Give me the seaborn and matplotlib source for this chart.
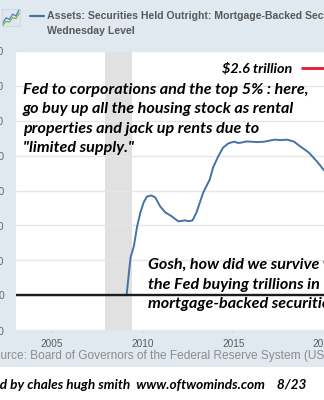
import matplotlib
matplotlib.use("Agg")
import matplotlib.pyplot as plt
import seaborn as sns
import pandas as pd
from matplotlib.patches import Rectangle
from matplotlib import font_manager as fm

# ---- data, millions of dollars ----
years = [2002.97, 2005.0, 2008.0, 2009.05, 2009.13, 2009.26, 2009.35, 2009.53, 2009.71,
         2009.89, 2010.07, 2010.25, 2010.49, 2010.71, 2010.98, 2011.26, 2011.62,
         2011.98, 2012.2, 2012.35, 2012.55, 2012.76, 2012.98, 2013.35, 2013.71,
         2013.89, 2014.17, 2014.44, 2014.71, 2014.9, 2015.08, 2015.25, 2015.44,
         2015.7, 2015.98, 2016.3, 2016.71, 2017.0, 2017.26, 2017.6, 2017.98,
         2018.35, 2018.71, 2019.17, 2019.62, 2019.84, 2020.0]
mbs_millions = [0, 0, 0, 0, 0, 262000, 434000, 560000, 789000,
                949000, 1063000, 1131000, 1143000, 1120000, 1017000, 949000, 903000,
                846000, 852000, 857000, 848000, 857000, 949000, 1177000, 1326000,
                1463000, 1589000, 1691000, 1737000, 1752000, 1760000, 1745000, 1749000,
                1762000, 1760000, 1755000, 1760000, 1772000, 1783000, 1778000, 1783000,
                1760000, 1703000, 1634000, 1531000, 1474000, 1430000]

y_ticks = [-400000, 0, 400000, 800000, 1200000, 1600000, 2000000, 2400000, 2800000]
x_ticks = [2005, 2010, 2015, 2020]
x_tick_labels = ["2005", "2010", "2015", "2020"]
recession = (2007.95, 2009.45)
target_line = 2600000

# icon data
icon_x = [0, 1, 2, 3, 4, 5]
icon_blue = [1.0, 2.2, 1.8, 3.0, 2.6, 4.0]
icon_green = [0.5, 1.4, 1.2, 2.2, 2.0, 3.2]

W, H = 324, 400
sns.set_theme(style="white")
plt.rcParams['font.family'] = ['Liberation Sans', 'DejaVu Sans']

# pick a family that really has a bold italic face
ann_family = 'DejaVu Sans'
for fam in ['Lato', 'Open Sans', 'Noto Sans', 'Liberation Sans']:
    try:
        path = fm.findfont(fm.FontProperties(family=fam, style='italic', weight='bold'),
                           fallback_to_default=False)
        low = path.lower()
        if ('italic' in low or 'oblique' in low) and ('bold' in low or 'black' in low or 'heavy' in low):
            ann_family = fam
            break
    except Exception:
        pass

BG = '#e1e9f0'
fig = plt.figure(figsize=(W / 100, H / 100), dpi=100, facecolor=BG)
renderer = fig.canvas.get_renderer()


def fx(x):
    return x / W


def fy(y):
    return 1 - y / H


def text_width(s, size, **kw):
    t = fig.text(0, 0, s, fontsize=size, **kw)
    w = t.get_window_extent(renderer).width
    t.remove()
    return w


def fit_size(s, target, **kw):
    return 10 * target / text_width(s, 10, **kw)


# white footer band
fig.patches.append(Rectangle((0, 0), 1, fy(367), transform=fig.transFigure,
                             facecolor='white', edgecolor='none', zorder=0))

ax = fig.add_axes([fx(16), fy(330), (W - 16) / W, (330 - 51) / H])
ax.set_facecolor('white')
for s in ax.spines.values():
    s.set_visible(False)

ax.axvspan(*recession, color='#e1e1e1', lw=0, zorder=0)
df = pd.DataFrame({'year': years, 'value': mbs_millions})
sns.lineplot(data=df, x='year', y='value', ax=ax, color='#4572a7', lw=1.4, zorder=3)
ax.axhline(0, color='#1c1c1c', lw=1.7, zorder=4)
ax.axhline(target_line, xmin=(302 - 16) / (W - 16), xmax=1.0, color='#e8182a', lw=2.0,
           zorder=4, clip_on=False)

ax.set_xlim(2003.04, 2019.84)
ax.set_ylim(-400000, 2800000)
ax.set_yticks(y_ticks)
ax.set_yticklabels([f"{v:,}" for v in y_ticks])
ax.set_xticks(x_ticks)
ax.set_xticklabels(x_tick_labels)
ax.grid(axis='y', color='#e6e6e6', lw=1.0, zorder=1)
ax.grid(axis='x', visible=False)
ax.set_axisbelow(True)
ax.tick_params(axis='y', length=0, pad=8.6, labelsize=7.5, labelcolor='#666666')
ax.tick_params(axis='x', length=2.5, width=0.8, color='#ccd6eb', pad=4.3, direction='out',
               labelsize=7.2, labelcolor='#5a5a5a', bottom=True)
ax.set_xlabel('')
ax.set_ylabel('')

# header
iax = fig.add_axes([fx(2), fy(26), fx(18), 17 / H])
iax.set_facecolor('#dfe6ee')
iax.plot(icon_x, icon_blue, color='#4f81bd', lw=0.9)
iax.plot(icon_x, icon_green, color='#7cb342', lw=0.9)
iax.set_xticks([]); iax.set_yticks([])
for s in iax.spines.values():
    s.set_color('#c9d3dd'); s.set_linewidth(0.5)

fig.add_artist(plt.Line2D([fx(30), fx(44)], [fy(16), fy(16)], color='#4572a7', lw=1.6,
                          transform=fig.transFigure))
ts = fit_size("Assets: Securities Held Outright: Mortgage-Backed Sec", 277, fontweight='bold')
fig.text(fx(47), fy(16), "Assets: Securities Held Outright: Mortgage-Backed Securities",
         fontsize=ts, fontweight='bold', color='#595959', va='center', ha='left')
fig.text(fx(47), fy(31), "Wednesday Level", fontsize=ts, fontweight='bold',
         color='#595959', va='center', ha='left')

ann = dict(family=[ann_family, 'DejaVu Sans'], fontweight='bold', fontstyle='italic',
           color='black')
s26 = fit_size("$2.6 trillion", 70, **ann)
fig.text(fx(222), fy(68), "$2.6 trillion", fontsize=s26, va='center', ha='left', **ann)

main_lines = ["Fed to corporations and the top 5% : here,",
              "go buy up all the housing stock as rental",
              "properties and jack up rents due to",
              "\"limited supply.\""]
ms = fit_size(main_lines[0], 285, **ann)
for i, line in enumerate(main_lines):
    fig.text(fx(23), fy(90 + i * 19.3), line, fontsize=ms, va='center', ha='left', **ann)

low_lines = ["Gosh, how did we survive without",
             "the Fed buying trillions in",
             "mortgage-backed securities?"]
for i, line in enumerate(low_lines):
    fig.text(fx(148), fy(265 + i * 19.5), line, fontsize=ms, va='center', ha='left', **ann)

# source line with "So" cut off at left
src_kw = dict(color='#8c8c8c')
ss = fit_size("urce: Board of Governors of the Federal Reserve System (U", 320)
w_so = text_width("So", ss)
fig.text(fx(-w_so), fy(355.5), "Source: Board of Governors of the Federal Reserve System (US)",
         fontsize=ss, va='center', ha='left', **src_kw)

fs = fit_size("d by chales hugh smith  www.oftwominds.com    8/23", 305, **ann)
w_cr = text_width("Create", fs, **ann)
fig.text(fx(-w_cr), fy(385), "Created by chales hugh smith  www.oftwominds.com    8/23",
         fontsize=fs, va='center', ha='left', **ann)

fig.savefig("out.png", dpi=100, facecolor=BG)
